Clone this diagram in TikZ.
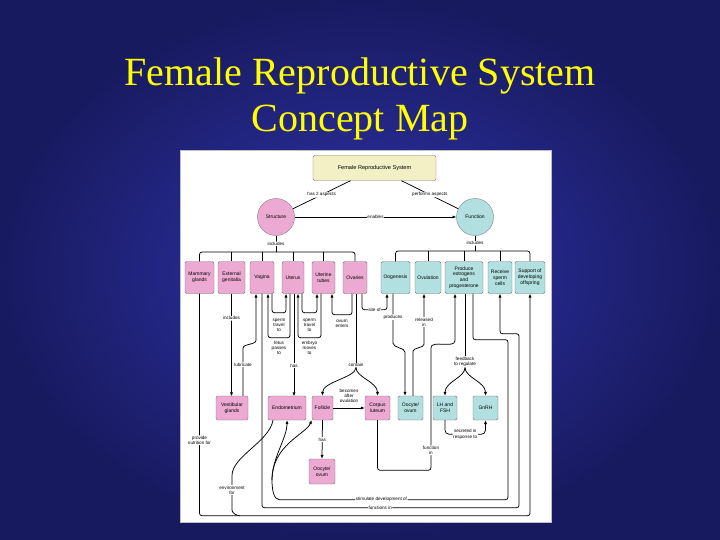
\documentclass[tikz,border=0pt]{standalone}
\usepackage{fontspec}
\setmainfont{Liberation Serif}
\newfontfamily\mapfont{Liberation Sans}
\usetikzlibrary{arrows.meta}
\definecolor{bgin}{RGB}{48,52,172}
\definecolor{bgout}{RGB}{24,26,96}
\definecolor{pinkf}{RGB}{236,170,210}
\definecolor{tealf}{RGB}{178,224,224}
\definecolor{yelf}{RGB}{243,240,198}
\definecolor{ttl}{RGB}{255,255,0}
\newcommand\boxsz{\mapfont\fontsize{5}{5.8}\selectfont}
\newcommand\lblsz{\mapfont\fontsize{4.6}{5.2}\selectfont}
\begin{document}
\begin{tikzpicture}[x=1pt,y=-1pt,
 mbox/.style={draw=black!55,line width=0.45pt,rounded corners=1.5pt,align=center,inner sep=0.5pt,font=\boxsz},
 pbox/.style={mbox,fill=pinkf},
 tbox/.style={mbox,fill=tealf},
 lbl/.style={font=\lblsz,align=center,inner sep=0.6pt,fill=white},
 con/.style={line width=0.75pt,draw=black,rounded corners=2.5pt},
 arr/.style={con,-{Latex[length=3.8pt,width=3.2pt]}}]
\useasboundingbox (0,0) rectangle (720,540);
\shade[inner color=bgin,outer color=bgout] (0,0) rectangle (720,540);
\node[anchor=base,text=ttl,font=\fontsize{40}{46}\selectfont] (t1) at (360,86) {Female Reproductive System};
\node[anchor=base,text=ttl,font=\fontsize{40}{46}\selectfont] (t2) at (360,132) {Concept Map};
\fill[white] (180,150) rectangle (551,522);
\draw[black!25,line width=0.4pt] (180,150) rectangle (551,522);

% top
\node[mbox,fill=yelf,minimum width=123pt,minimum height=25pt,rounded corners=2pt,font=\mapfont\fontsize{5.6}{6.5}\selectfont] (frs) at (374.5,168) {Female Reproductive System};
\node[circle,draw=black!50,fill=pinkf,minimum size=37pt,inner sep=0pt,font=\boxsz] (str) at (276,217) {Structure};
\node[circle,draw=black!50,fill=tealf,minimum size=37pt,inner sep=0pt,font=\boxsz] (fun) at (475,217) {Function};

% structure row
\node[pbox,minimum width=29pt,minimum height=32pt] (mam) at (199.5,277.5) {Mammary\\glands};
\node[pbox,minimum width=27pt,minimum height=32pt] (ext) at (231.5,277.5) {External\\genitalia};
\node[pbox,minimum width=24pt,minimum height=32pt] (vag) at (262,277.5) {Vagina};
\node[pbox,minimum width=22pt,minimum height=32pt] (ute) at (293,277.5) {Uterus};
\node[pbox,minimum width=23pt,minimum height=32pt] (tub) at (323.5,277.5) {Uterine\\tubes};
\node[pbox,minimum width=24pt,minimum height=32pt] (ova) at (355,277.5) {Ovaries};
% function row
\node[tbox,minimum width=29pt,minimum height=32pt] (oog) at (395.5,277.5) {Oogenesis};
\node[tbox,minimum width=26pt,minimum height=32pt] (ovu) at (428,277.5) {Ovulation};
\node[tbox,minimum width=38pt,minimum height=32pt] (pro) at (464,277.5) {Produce\\estrogens\\and\\progesterone};
\node[tbox,minimum width=24pt,minimum height=32pt] (rec) at (500,277.5) {Receive\\sperm\\cells};
\node[tbox,minimum width=30pt,minimum height=32pt] (sup) at (530,277.5) {Support of\\developing\\offspring};
% lower row
\node[pbox,minimum width=32pt,minimum height=24pt] (ves) at (232,408) {Vestibular\\glands};
\node[pbox,minimum width=38pt,minimum height=24pt] (end) at (287,408) {Endometrium};
\node[pbox,minimum width=21pt,minimum height=24pt] (fol) at (322.5,408) {Follicle};
\node[pbox,minimum width=25pt,minimum height=24pt] (cor) at (377.5,408) {Corpus\\luteum};
\node[tbox,minimum width=25pt,minimum height=24pt] (oot) at (410.5,408) {Oocyte/\\ovum};
\node[tbox,minimum width=24pt,minimum height=24pt] (lhf) at (445,408) {LH and\\FSH};
\node[tbox,minimum width=25pt,minimum height=24pt] (gnr) at (485.5,408) {GnRH};
\node[pbox,minimum width=26pt,minimum height=25pt] (ooc) at (322,471.5) {Oocyte/\\ovum};

% top connectors
\draw[con] ([xshift=-24pt]frs.south) -- node[lbl]{has 2 aspects} (str);
\draw[con] ([xshift=27pt]frs.south) -- node[lbl]{performs aspects} (fun);
\draw[arr] (str) -- node[lbl]{enables} (fun);
\coordinate (sj) at (276,252);
\coordinate (fj) at (475,251);
\draw[con] (str) -- node[lbl]{includes} (sj);
\draw[con] (fun) -- node[lbl]{includes} (fj);
\draw[con] (mam.north) |- (sj) -| (ova.north);
\foreach \n in {ext,vag,ute,tub} \draw[con] (\n.north) -- ++(0,-9.5);
\draw[con] (oog.north) |- (fj) -| (sup.north);
\foreach \n in {ovu,pro,rec} \draw[con] (\n.north) -- ++(0,-10.5);

% labels placed under loops
\node[lbl,fill=none] (l1) at (279,325) {sperm\\travel\\to};
\node[lbl,fill=none] (l2) at (309.5,325) {sperm\\travel\\to};
\node[lbl,fill=none] (l3) at (279,348) {fetus\\passes\\to};
\node[lbl,fill=none] (l4) at (309.5,348) {embryo\\moves\\to};
\node[lbl,fill=none] (l5) at (342,324) {ovum\\enters};
\node[lbl,fill=none] (l6) at (349,396) {becomes\\after\\ovulation};
\node[lbl] (lcont) at (356,365) {contain};
\node[lbl] (lfeed) at (465,362) {feedback\\to regulate};

% structure connectors
\draw[arr] (ext.south) -- node[lbl,pos=0.24]{includes} ++(0,102.5);
\draw[arr] ([xshift=11pt]ves.north) -- node[lbl,pos=0.69]{lubricate} ++(0,-45) to[out=90,in=-90] ++(13,-13) -- ([xshift=-6pt]vag.south);
\draw[arr] ([xshift=10pt]vag.south) -- ++(0,19) -| ([xshift=-7pt]ute.south);
\draw[arr] ([xshift=-3pt]ute.south) -- ++(0,44) -| ([xshift=6pt]vag.south);
\draw[arr] ([xshift=1pt]ute.south) -- node[lbl,pos=0.7]{has} ++(0,102.5);
\draw[arr] ([xshift=9pt]ute.south) -- ++(0,19) -| ([xshift=-6.5pt]tub.south);
\draw[arr] ([xshift=-2.5pt]tub.south) -- ++(0,44) -| ([xshift=5pt]ute.south);
\draw[arr] ([xshift=-3pt]ova.south) -- ++(0,21) -| ([xshift=8.5pt]tub.south);
\draw[arr] ([xshift=7pt]ova.south) -- ++(0,16) -| node[lbl,pos=0.25]{site of} ([xshift=-8.5pt]oog.south);
\draw[con] ([xshift=1pt]ova.south) -- (lcont.north);
\draw[arr] (lcont.south) .. controls +(0,10) and +(0,-14) .. (fol.north);
\draw[arr] (lcont.south) .. controls +(0,10) and +(0,-14) .. (cor.north);
\draw[arr] (fol.east) -- (cor.west);
\draw[arr] (fol.south) -- node[lbl]{has} (ooc.north);

% function connectors
\draw[arr] ([xshift=-2.5pt]oog.south) -- node[lbl]{produces} ++(0,47) to[out=-90,in=90] ++(12,14) -- ([xshift=-5.5pt]oot.north);
\draw[arr] ([xshift=2.5pt]oot.north) -- ++(0,-42) to[out=90,in=-90] ++(11,-12) -- node[lbl,pos=0.41]{released\\in} ([xshift=-4pt]ovu.south);
\draw[arr] (cor.south) -- ++(0,50) -| node[lbl,pos=0.583]{function\\in} ++(53.5,-120) to[out=90,in=-90] ++(24,-12) -- ([xshift=-9pt]pro.south);
\draw[con] ([xshift=1pt]pro.south) -- (lfeed.north);
\draw[arr] (lfeed.south) .. controls +(0,10) and +(0,-14) .. (lhf.north);
\draw[arr] (lfeed.south) .. controls +(0,10) and +(0,-14) .. (gnr.north);
\draw[arr,rounded corners=4pt] (lhf.south) -- ++(0,14) -| node[lbl,pos=0.25]{secreted in\\response to} (gnr.south);

% long connectors
\coordinate (sbr) at (272,480);
\draw[con] ([xshift=9pt]pro.south) -- ++(0,46) -- ++(35,0) -- ++(0,160) -- node[lbl,pos=0.56]{stimulate development of} ++(-226,0) to[out=180,in=-90] (sbr);
\draw[arr] (sbr) .. controls +(0,-22) and +(0,18) .. (end.south);
\draw[arr] (sbr) .. controls +(0,-35) and +(-6,14) .. (fol.south west);
\draw[arr] (vag.south) -- ++(0,214) -- node[lbl,pos=0.46]{functions in} ++(257,0) -- ++(0,-174) -- ++(-19,0) -- (rec.south);
\draw[arr] (mam.south) -- node[lbl,pos=0.66]{provide\\nutrition for} ++(0,222) -| (sup.south);
\draw[con] ([xshift=-14pt]end.south) .. controls +(-4,22) and +(0,-22) .. ++(-41,58) -- node[lbl,pos=0.4]{environment\\for} ++(0,29.5) to[out=-90,in=180] ++(8,8);
\end{tikzpicture}
\end{document}
